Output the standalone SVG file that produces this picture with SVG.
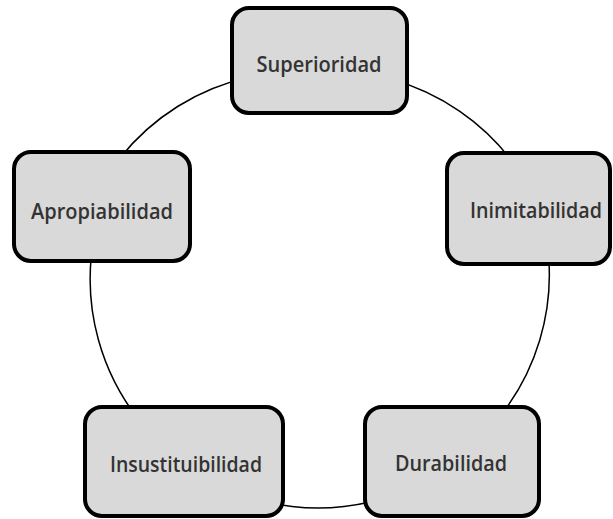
<svg xmlns="http://www.w3.org/2000/svg" width="613" height="519" viewBox="0 0 613 519">
<style>
.box{fill:#d9d9d9;stroke:#000;stroke-width:4}
.lbl{font-family:"Open Sans","Noto Sans","Liberation Sans",sans-serif;font-size:21px;font-weight:600;fill:#333;text-anchor:middle}
.arc{fill:none;stroke:#000;stroke-width:1.5}
</style>
<rect width="613" height="519" fill="#fff"/>
<g id="connectors">
<path class="arc" d="M120,158 A228,228 0 0 1 250,77"/>
<path class="arc" d="M390,79 A228,228 0 0 1 515,165"/>
<path class="arc" d="M548,250 A228,228 0 0 1 497,420"/>
<path class="arc" d="M370,502 A228,228 0 0 1 266,502"/>
<path class="arc" d="M139,420 A228,228 0 0 1 92,250"/>
</g>
<g id="superioridad">
<rect class="box" x="232" y="8" width="175" height="105" rx="17"/>
<text class="lbl" x="319" y="72" textLength="125" lengthAdjust="spacingAndGlyphs">Superioridad</text>
</g>
<g id="apropiabilidad">
<rect class="box" x="14" y="152" width="176" height="109" rx="17"/>
<text class="lbl" x="102" y="219" textLength="142" lengthAdjust="spacingAndGlyphs">Apropiabilidad</text>
</g>
<g id="inimitabilidad">
<rect class="box" x="447" y="153" width="163" height="111" rx="17"/>
<text class="lbl" x="536" y="218" textLength="132" lengthAdjust="spacingAndGlyphs">Inimitabilidad</text>
</g>
<g id="insustituibilidad">
<rect class="box" x="85" y="407" width="198" height="109" rx="17"/>
<text class="lbl" x="186" y="472" textLength="152" lengthAdjust="spacingAndGlyphs">Insustituibilidad</text>
</g>
<g id="durabilidad">
<rect class="box" x="365" y="407" width="174" height="109" rx="17"/>
<text class="lbl" x="451" y="471" textLength="112" lengthAdjust="spacingAndGlyphs">Durabilidad</text>
</g>
</svg>
